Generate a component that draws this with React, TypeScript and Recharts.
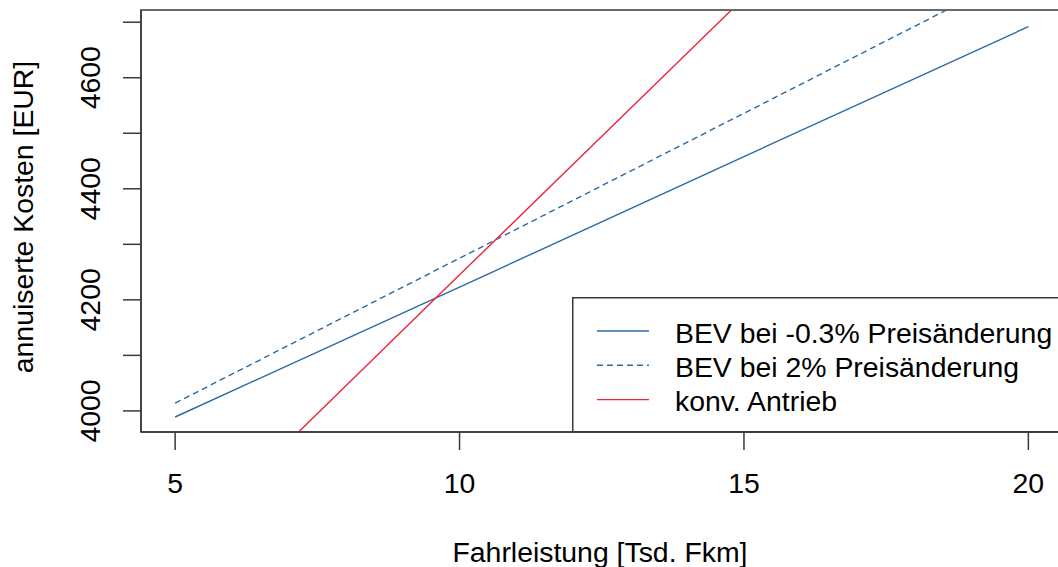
// App.tsx - annuisierte Kosten vs. Fahrleistung
import React from 'react';
import { LineChart, Line, XAxis, YAxis, ReferenceArea, Legend, Label } from 'recharts';

// Fahrleistung in Tsd. km
const fahrleistung = [5, 10, 15, 20];
// annuisierte Kosten in EUR
const bevMinus03 = [3989, 4223, 4458, 4692];
const bevPlus2 = [4014, 4275, 4536, 4797];
const konvAntrieb = [3745, 4245, 4744, 5243];

const xTicks = [5, 10, 15, 20];
const yTicks = [4000, 4100, 4200, 4300, 4400, 4500, 4600, 4700];
const xDomain = [4.4, 20.6];
const yDomain = [3962, 4722];

const seriesNames = ['BEV bei -0.3% Preisänderung', 'BEV bei 2% Preisänderung', 'konv. Antrieb'];

const FONT = '"Liberation Sans", Arial, sans-serif';
const FS = 28.4;
const BLUE = '#2A6AA3';
const RED = '#E8283A';
const AXIS = '#3a3a3a';

const data = fahrleistung.map((x, i) => ({
  x,
  bev03: bevMinus03[i],
  bev2: bevPlus2[i],
  konv: konvAntrieb[i],
}));

// x-Achsen Beschriftung
const XTick = ({ x, y, payload }: any) => (
  <text x={x} y={y + 41} textAnchor="middle" fontFamily={FONT} fontSize={FS} fill="#000">
    {payload.value}
  </text>
);

// y-Achse: R lässt jede zweite Zahl weg (Überlappung)
const YTick = ({ x, y, payload }: any) => {
  if (payload.value % 200 !== 0) return null;
  const bx = x - 21;
  return (
    <text
      x={bx}
      y={y}
      transform={`rotate(-90, ${bx}, ${y})`}
      textAnchor="middle"
      fontFamily={FONT}
      fontSize={FS}
      fill="#000"
    >
      {payload.value}
    </text>
  );
};

const LegendBox = ({ payload }: any) => (
  <svg width={491} height={136} style={{ display: 'block' }}>
    <rect x={0.75} y={0.75} width={489} height={134} fill="#fff" stroke={AXIS} strokeWidth={1.5} />
    {(payload || []).map((item: any, i: number) => (
      <g key={item.value}>
        <line
          x1={25}
          x2={77}
          y1={34 + i * 34.3}
          y2={34 + i * 34.3}
          stroke={item.color}
          strokeWidth={1.4}
          strokeDasharray={item.payload?.strokeDasharray}
        />
        <text x={103} y={46 + i * 34} fontFamily={FONT} fontSize={FS} fill="#000">
          {item.value}
        </text>
      </g>
    ))}
  </svg>
);

export default function App() {
  return (
    <div style={{ position: 'absolute', left: 0, top: 0, width: 1058, height: 567, overflow: 'hidden', background: '#fff' }}>
      <LineChart width={1070} height={567} data={data} margin={{ top: 10, right: 7.5, bottom: 75, left: 0 }}>
        <XAxis
          type="number"
          dataKey="x"
          domain={xDomain}
          ticks={xTicks}
          allowDataOverflow
          height={60}
          tickSize={18}
          tickMargin={2}
          tick={<XTick />}
          axisLine={{ stroke: AXIS, strokeWidth: 1.5 }}
          tickLine={{ stroke: AXIS, strokeWidth: 1.5 }}
        >
          <Label
            content={() => (
              <text x={600} y={562} textAnchor="middle" fontFamily={FONT} fontSize={FS} fill="#000">
                Fahrleistung [Tsd. Fkm]
              </text>
            )}
          />
        </XAxis>
        <YAxis
          type="number"
          domain={yDomain}
          ticks={yTicks}
          allowDataOverflow
          width={141}
          tickSize={18}
          tickMargin={2}
          tick={<YTick />}
          axisLine={{ stroke: AXIS, strokeWidth: 1.5 }}
          tickLine={{ stroke: AXIS, strokeWidth: 1.5 }}
        >
          <Label
            content={() => (
              <text
                x={33}
                y={217}
                transform="rotate(-90, 33, 217)"
                textAnchor="middle"
                fontFamily={FONT}
                fontSize={FS}
                fill="#000"
              >
                annuiserte Kosten [EUR]
              </text>
            )}
          />
        </YAxis>
        <ReferenceArea
          x1={xDomain[0]}
          x2={xDomain[1]}
          y1={yDomain[0]}
          y2={yDomain[1]}
          fill="none"
          stroke={AXIS}
          strokeWidth={1.5}
          fillOpacity={0}
        />
        <Line type="linear" dataKey="bev03" name={seriesNames[0]} stroke={BLUE} strokeWidth={1.4} dot={false} isAnimationActive={false} />
        <Line
          type="linear"
          dataKey="bev2"
          name={seriesNames[1]}
          stroke={BLUE}
          strokeWidth={1.4}
          strokeDasharray="6 4"
          dot={false}
          isAnimationActive={false}
        />
        <Line type="linear" dataKey="konv" name={seriesNames[2]} stroke={RED} strokeWidth={1.4} dot={false} isAnimationActive={false} />
        <Legend
          layout="vertical"
          align="center"
          verticalAlign="middle"
          content={<LegendBox />}
          wrapperStyle={{ left: 572, top: 296.5, width: 491, height: 136, margin: 0, padding: 0 }}
        />
      </LineChart>
    </div>
  );
}
